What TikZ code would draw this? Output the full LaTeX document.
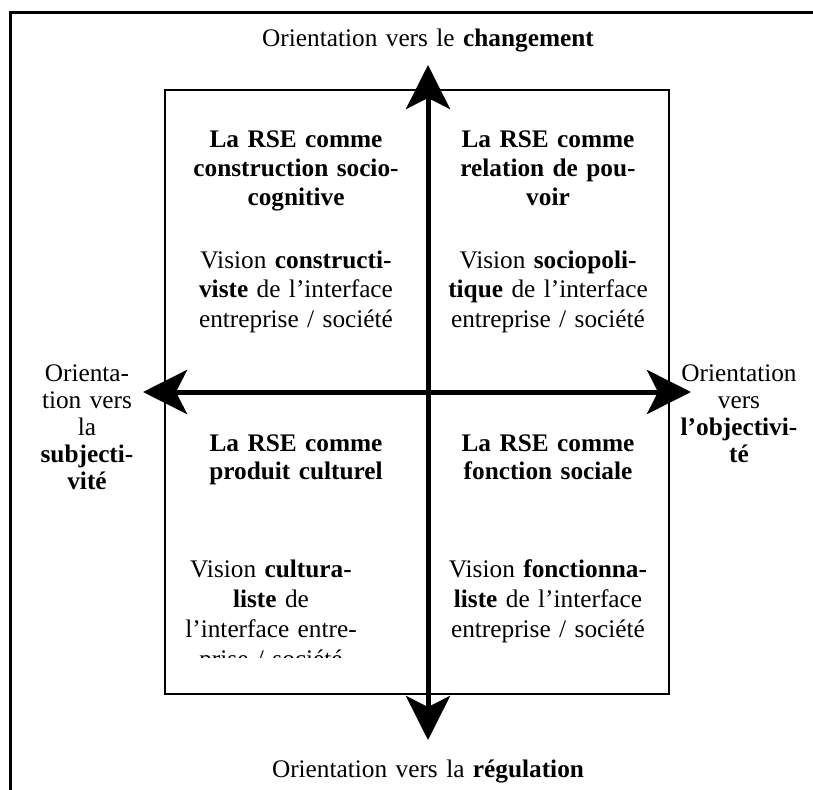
\documentclass[tikz,border=0pt]{standalone}
\usepackage{fontspec}
\setmainfont{Liberation Serif}
\usetikzlibrary{arrows.meta}
\tikzset{
  txt/.style={font=\fontsize{25.3}{#1}\selectfont, align=center, text width=320pt, inner sep=0pt, anchor=base},
  txt/.default=29,
  ttl/.style={txt=#1, font=\fontsize{25.3}{#1}\selectfont\bfseries},
  ttl/.default=29,
  wide/.style={txt, text width=520pt},
  frame/.style={line width=3pt, line cap=rect},
  quad/.style={line width=2.5pt},
  axis/.style={line width=5pt, {Stealth[length=44pt,width=44pt,inset=11pt]}-{Stealth[length=44pt,width=44pt,inset=11pt]}}
}
\begin{document}
\begin{tikzpicture}[x=1pt,y=-1pt]
\useasboundingbox (0,0) rectangle (813,789);
% outer frame (open at right and bottom)
\coordinate (ftr) at (815,13);
\coordinate (ftl) at (10,13);
\coordinate (fbl) at (10,791);
\draw[frame] (ftr) -- (ftl) -- (fbl);
% inner box
\node[draw, quad, minimum width=504pt, minimum height=604pt, inner sep=0pt] (box) at (417,392) {};
% axes
\coordinate (vt) at (428,65);
\coordinate (vb) at (428,740);
\coordinate (hl) at (143,392);
\coordinate (hr) at (691,392);
\draw[axis] (vb) -- (vt);
\draw[axis] (hl) -- (hr);
% axis labels
\node[wide] (ltop) at (428,47) {Orientation vers le \textbf{changement}};
\node[wide] (lbot) at (428,777) {Orientation vers la \textbf{régulation}};
\node[txt=27] (lleft) at (87,381) {Orienta-\\tion vers\\la\\\textbf{subjecti-}\\\textbf{vité}};
\node[txt=27] (lright) at (739,381) {Orientation\\vers\\\textbf{l’objectivi-}\\\textbf{té}};
% top-left
\node[ttl] (tlt) at (296,147) {La RSE comme\\construction socio-\\cognitive};
\node[txt=29.5] (tlv) at (296,268) {Vision \textbf{constructi-}\\\textbf{viste} de l’interface\\entreprise / société};
% top-right
\node[ttl] (trt) at (548,147) {La RSE comme\\relation de pou-\\voir};
\node[txt=29.5] (trv) at (548,268) {Vision \textbf{sociopoli-}\\\textbf{tique} de l’interface\\entreprise / société};
% bottom-left
\node[ttl=28.5] (blt) at (296,451) {La RSE comme\\produit culturel};
\begin{scope}
\clip (170,540) rectangle (425,657);
\node[txt=30] (blv) at (271,577) {Vision \textbf{cultura-}\\\textbf{liste} de\\l’interface entre-\\prise / société};
\end{scope}
% bottom-right
\node[ttl=28.5] (brt) at (548,451) {La RSE comme\\fonction sociale};
\node[txt=30] (brv) at (548,577) {Vision \textbf{fonctionna-}\\\textbf{liste} de l’interface\\entreprise / société};
\end{tikzpicture}
\end{document}
